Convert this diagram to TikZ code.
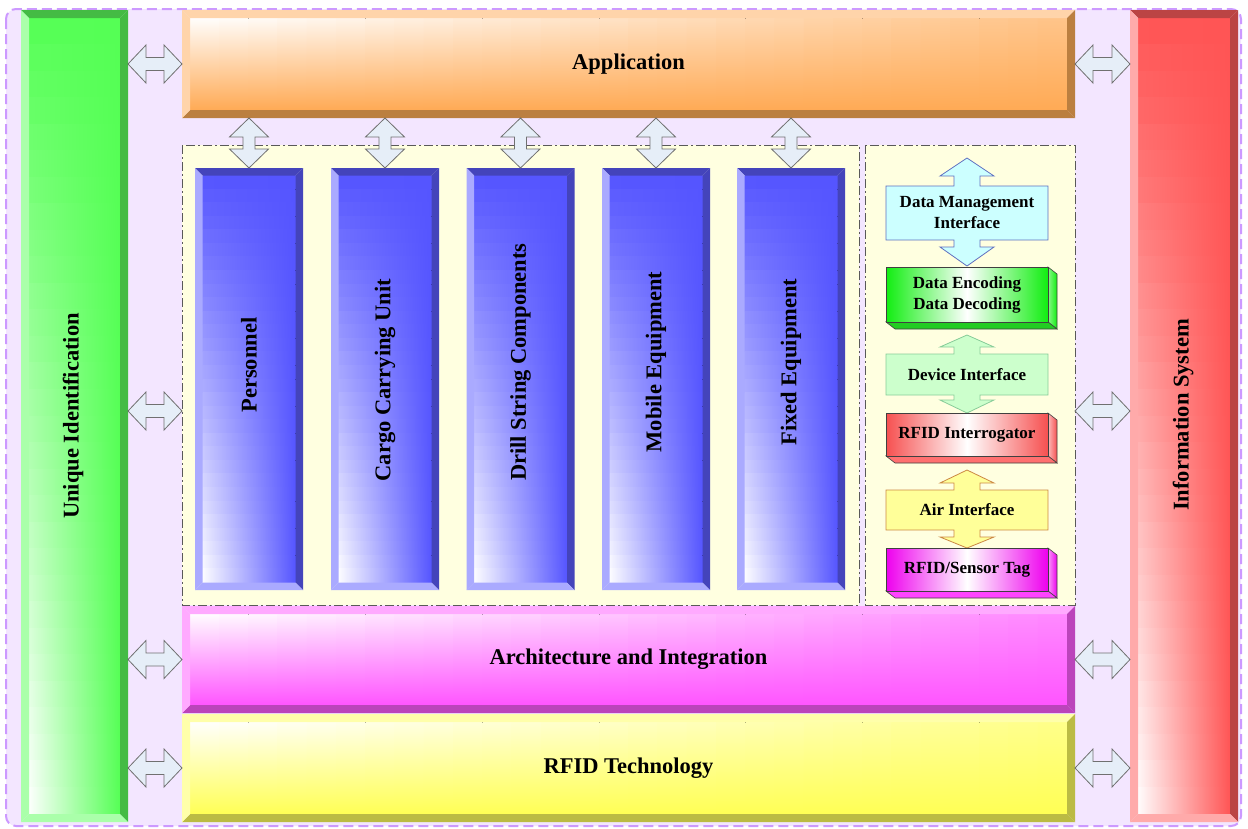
\documentclass[tikz,border=0pt]{standalone}
\usepackage{fontspec}
\setmainfont{Liberation Serif}
\usetikzlibrary{calc}
\pgfdeclarelayer{bg}
\pgfsetlayers{bg,main}
\definecolor{arrfill}{HTML}{E6EEF8}
\definecolor{arrline}{HTML}{707070}
\definecolor{bgfill}{HTML}{F3E6FF}
\definecolor{bgline}{HTML}{CC99FF}
\definecolor{panelfill}{HTML}{FFFFE0}
\definecolor{gBase}{HTML}{55FF55}\definecolor{gDark}{HTML}{44BB44}\definecolor{gLight}{HTML}{AAFFAA}
\definecolor{rBase}{HTML}{FF5555}\definecolor{rDark}{HTML}{BB4444}\definecolor{rLight}{HTML}{FFAAAA}
\definecolor{bBase}{HTML}{5555FF}\definecolor{bDark}{HTML}{4444BB}\definecolor{bLight}{HTML}{AAAAFF}
\definecolor{oBase}{HTML}{FFAA55}\definecolor{oDark}{HTML}{BB7F40}\definecolor{oLight}{HTML}{FFD4AA}
\definecolor{mBase}{HTML}{FF55FF}\definecolor{mDark}{HTML}{BB44BB}\definecolor{mLight}{HTML}{FFAAFF}
\definecolor{yBase}{HTML}{FFFF55}\definecolor{yDark}{HTML}{BBBB44}\definecolor{yLight}{HTML}{FFFFAA}
\definecolor{encBase}{HTML}{11EE11}\definecolor{encBot}{HTML}{22CC22}
\definecolor{intBase}{HTML}{F65050}\definecolor{intBot}{HTML}{FF7070}
\definecolor{tagBase}{HTML}{EE00EE}\definecolor{tagBot}{HTML}{FF44FF}
\definecolor{dmiFill}{HTML}{CCFFFF}\definecolor{dmiLine}{HTML}{6070C0}
\definecolor{devFill}{HTML}{CCFFCC}\definecolor{devLine}{HTML}{88CC99}
\definecolor{airFill}{HTML}{FFFF99}\definecolor{airLine}{HTML}{CC8844}
\tikzset{
  dbl/.style={fill=arrfill, draw=arrline, line width=0.8pt, line join=miter},
  bigtxt/.style={font=\fontsize{22.5}{27}\selectfont\bfseries},
  smalltxt/.style={font=\fontsize{17}{21}\selectfont\bfseries, align=center},
  box/.style={inner sep=0pt, outer sep=0pt, rectangle},
  cubeline/.style={draw=black!75, line width=0.6pt},
  dashpanel/.style={draw=black!65, line width=0.9pt, dash pattern=on 9pt off 3pt on 2pt off 3pt, fill=panelfill},
}
% gradient faces built from strips
\newcommand\faceV[1]{\foreach \i in {0,...,29}{%
  \pgfmathtruncatemacro\k{100*(\i+0.5)/30}%
  \fill[left color=white!\k!#1, right color=#1] ($(a)!{\i/30}!(d)$) rectangle ($(b)!{(\i+1.2)/30}!(c)$);}}
\newcommand\faceH[1]{\foreach \i in {0,...,29}{%
  \pgfmathtruncatemacro\k{100-70*(\i+0.5)/30}%
  \fill[top color=white!\k!#1, bottom color=#1] ($(a)!{\i/30}!(b)$) rectangle ($(d)!{(\i+1.2)/30}!(c)$);}}
% bevelled bar: name, base, top, right, bottom, left, width, face macro
\newcommand\bevelbox[8]{%
\begin{pgfonlayer}{bg}
\path (#1.north west) coordinate (A) (#1.north east) coordinate (B)
      (#1.south east) coordinate (C) (#1.south west) coordinate (D);
\path ($(A)+(#7,#7)$) coordinate (a) ($(B)+(-#7,#7)$) coordinate (b)
      ($(C)+(-#7,-#7)$) coordinate (c) ($(D)+(#7,-#7)$) coordinate (d);
\fill[#2] (a) rectangle (c);
#8{#2}
\fill[#3] (A)--(B)--(b)--(a)--cycle;
\fill[#4] (B)--(C)--(c)--(b)--cycle;
\fill[#5] (D)--(C)--(c)--(d)--cycle;
\fill[#6] (A)--(D)--(d)--(a)--cycle;
\end{pgfonlayer}}
% 3d box: name, base, side light, bottom colour
\newcommand\cubebox[4]{%
\begin{pgfonlayer}{bg}
\path (#1.north west) coordinate (A) (#1.north east) coordinate (B)
      (#1.south east) coordinate (C) (#1.south west) coordinate (D);
\draw[cubeline, left color=#3, right color=#2] (B) -- ($(B)+(9,7)$) -- ($(C)+(9,7)$) -- (C) -- cycle;
\draw[cubeline, fill=#4] (D) -- (C) -- ($(C)+(9,7)$) -- ($(D)+(9,7)$) -- cycle;
\draw[cubeline, left color=#2, right color=#2, middle color=white] (A) rectangle (C);
\end{pgfonlayer}}
% box with arrows up and down: name, fill, line, up tip, up base, down base, down tip
\newcommand\arrowbox[7]{%
\begin{pgfonlayer}{bg}
\draw[fill=#2, draw=#3, line width=0.8pt, line join=miter]
  (#1.north west) -- ($(#1.north)+(-13,0)$) -- ($(#1.north)+(-13,-#5)$) -- ($(#1.north)+(-27,-#5)$)
  -- ($(#1.north)+(0,-#4)$) -- ($(#1.north)+(27,-#5)$) -- ($(#1.north)+(13,-#5)$) -- ($(#1.north)+(13,0)$)
  -- (#1.north east) -- (#1.south east) -- ($(#1.south)+(13,0)$) -- ($(#1.south)+(13,#6)$)
  -- ($(#1.south)+(27,#6)$) -- ($(#1.south)+(0,#7)$) -- ($(#1.south)+(-27,#6)$) -- ($(#1.south)+(-13,#6)$)
  -- ($(#1.south)+(-13,0)$) -- (#1.south west) -- cycle;
\end{pgfonlayer}}
\newcommand\harr[2]{\draw[dbl] (#1) -- ($(#1)+(18,-19)$) -- ($(#1)+(18,-6.5)$) -- ($(#2)+(-18,-6.5)$)
  -- ($(#2)+(-18,-19)$) -- (#2) -- ($(#2)+(-18,19)$) -- ($(#2)+(-18,6.5)$) -- ($(#1)+(18,6.5)$)
  -- ($(#1)+(18,19)$) -- cycle;}
\newcommand\varr[2]{\draw[dbl] (#1) -- ($(#1)+(19.5,19)$) -- ($(#1)+(6,19)$) -- ($(#2)+(6,-19)$)
  -- ($(#2)+(19.5,-19)$) -- (#2) -- ($(#2)+(-19.5,-19)$) -- ($(#2)+(-6,-19)$) -- ($(#1)+(-6,19)$)
  -- ($(#1)+(-19.5,19)$) -- cycle;}
\begin{document}
\begin{tikzpicture}[x=1pt,y=-1pt]
\useasboundingbox (0,0) rectangle (1248,828);
% nodes
\node[box, minimum width=1235pt, minimum height=817pt] (frame) at (623.5,417.5) {};
\node[box, minimum width=107pt, minimum height=812pt] (uid) at (74.5,416) {};
\node[bigtxt, rotate=90] (uidt) at (73,416) {Unique Identification};
\node[box, bigtxt, minimum width=893pt, minimum height=108pt] (app) at (628.5,64) {Application};
\node[box, minimum width=108pt, minimum height=812pt] (isys) at (1184,416) {};
\node[bigtxt, rotate=90] (isyst) at (1183,415) {Information System};
\node[box, bigtxt, minimum width=893pt, minimum height=107pt] (arch) at (628.5,659.5) {Architecture and Integration};
\node[box, bigtxt, minimum width=893pt, minimum height=108pt] (rfidt) at (628.5,768) {RFID Technology};
\node[box, minimum width=677pt, minimum height=460pt] (colp) at (520.5,375) {};
\node[box, minimum width=210pt, minimum height=460pt] (rp) at (970,375) {};
\foreach \n/\x in {c1/249, c2/385, c3/520.5, c4/656, c5/791}
  \node[box, minimum width=108pt, minimum height=422pt] (\n) at (\x,379) {};
\node[bigtxt, rotate=90] (t1) at (249,365) {Personnel};
\node[bigtxt, rotate=90] (t2) at (385,380) {Cargo Carrying Unit};
\node[bigtxt, rotate=90] (t3) at (520.5,362) {Drill String Components};
\node[bigtxt, rotate=90] (t4) at (656,362) {Mobile Equipment};
\node[bigtxt, rotate=90] (t5) at (791,362) {Fixed Equipment};
\node[box, smalltxt, minimum width=162pt, minimum height=54pt] (dmi) at (967,213) {Data Management\\Interface};
\node[box, smalltxt, minimum width=162pt, minimum height=55pt] (enc) at (967,294.5) {Data Encoding\\Data Decoding};
\node[box, smalltxt, minimum width=162pt, minimum height=41pt] (dev) at (967,374.5) {Device Interface};
\node[box, smalltxt, minimum width=162pt, minimum height=43pt] (intg) at (967,434.5) {RFID Interrogator};
\node[box, smalltxt, minimum width=162pt, minimum height=40pt] (air) at (967,510) {Air Interface};
\node[box, smalltxt, minimum width=162pt, minimum height=43pt] (tag) at (967,569.5) {RFID/Sensor Tag};
% background
\begin{pgfonlayer}{bg}
\draw[fill=bgfill, draw=bgline, line width=2pt, dash pattern=on 10pt off 5pt, rounded corners=10pt]
  (frame.north west) rectangle (frame.south east);
\draw[dashpanel] (colp.north west) rectangle (colp.south east);
\draw[dashpanel] (rp.north west) rectangle (rp.south east);
\end{pgfonlayer}
% bars
\bevelbox{uid}{gBase}{gDark}{gDark}{gLight}{gLight}{8}{\faceV}
\bevelbox{isys}{rBase}{rDark}{rDark}{rLight}{rLight}{8}{\faceV}
\bevelbox{app}{oBase}{oLight}{oDark}{oDark}{oLight}{8}{\faceH}
\bevelbox{arch}{mBase}{mLight}{mDark}{mDark}{mLight}{8}{\faceH}
\bevelbox{rfidt}{yBase}{yLight}{yDark}{yDark}{yLight}{8}{\faceH}
\foreach \n in {c1,c2,c3,c4,c5}
  {\bevelbox{\n}{bBase}{bDark}{bDark}{bLight}{bLight}{7.5}{\faceV}}
% right panel stack
\arrowbox{dmi}{dmiFill}{dmiLine}{28}{10}{7}{26}
\cubebox{enc}{encBase}{white!50!encBase}{encBot}
\arrowbox{dev}{devFill}{devLine}{19}{7}{5}{18}
\cubebox{intg}{intBase}{white!60!intBase}{intBot}
\arrowbox{air}{airFill}{airLine}{20}{7}{7}{18}
\cubebox{tag}{tagBase}{white!60!tagBase}{tagBot}
% connectors
\coordinate (l1) at (uid.east |- app.west);
\coordinate (l2) at ($(uid.east)+(0,-5)$);
\coordinate (r2) at (colp.west |- l2);
\coordinate (l3) at (uid.east |- arch.west);
\coordinate (l4) at (uid.east |- rfidt.west);
\coordinate (q1) at (isys.west |- app.east);
\coordinate (p2) at (rp.east |- l2);
\coordinate (q2) at (isys.west |- l2);
\coordinate (q3) at (isys.west |- arch.east);
\coordinate (q4) at (isys.west |- rfidt.east);
\harr{l1}{app.west}
\harr{l2}{r2}
\harr{l3}{arch.west}
\harr{l4}{rfidt.west}
\harr{app.east}{q1}
\harr{p2}{q2}
\harr{arch.east}{q3}
\harr{rfidt.east}{q4}
\foreach \n in {c1,c2,c3,c4,c5}
  {\coordinate (top\n) at (\n.north |- app.south);
   \varr{top\n}{\n.north}}
\end{tikzpicture}
\end{document}
